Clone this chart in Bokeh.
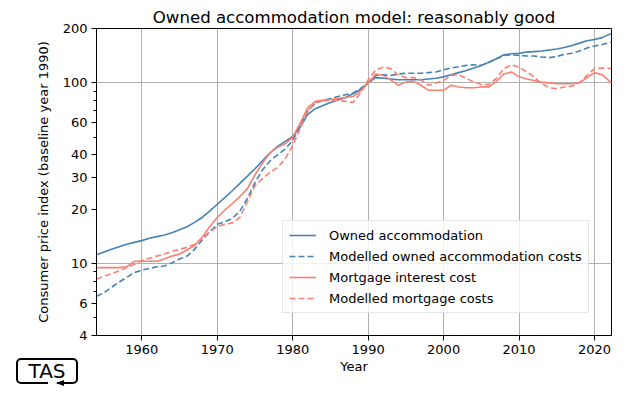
from bokeh.plotting import figure
from bokeh.layouts import column
from bokeh.models import (Range1d, FixedTicker, PrintfTickFormatter, Legend,
                          LegendItem, ColumnDataSource, Div)
from bokeh.embed import file_html
from bokeh.resources import INLINE

years = list(range(1954, 2022)) + [2022.25]

owned_accommodation = [
    11.2, 11.6, 12.0, 12.4, 12.8, 13.1, 13.4, 13.8, 14.1, 14.4,
    14.8, 15.4, 16.0, 16.9, 18.0, 19.5, 21.3, 23.2, 25.3, 27.8,
    30.5, 33.5, 37.0, 41.0, 44.5, 47.5, 50.5, 57.0, 67.0, 72.0,
    75.0, 78.0, 80.5, 83.0, 87.0, 92.0, 100.0, 107.0, 106.0, 105.0,
    104.0, 104.0, 104.0, 104.0, 105.0, 106.0, 108.0, 111.0, 114.0, 117.0,
    121.0, 125.0, 130.0, 136.0, 143.0, 145.0, 146.0, 148.0, 149.0, 150.0,
    152.0, 154.0, 157.0, 161.0, 166.0, 171.0, 174.0, 178.0, 188.0]

modelled_owned = [
    6.6, 6.9, 7.4, 7.9, 8.4, 8.9, 9.2, 9.4, 9.6, 9.7,
    10.1, 10.6, 11.0, 12.0, 13.5, 15.0, 16.5, 17.0, 17.8, 19.5,
    23.0, 28.0, 33.0, 37.0, 40.0, 43.0, 48.0, 58.0, 70.0, 77.0,
    80.0, 82.0, 84.0, 86.0, 88.0, 93.0, 100.0, 110.0, 111.0, 110.0,
    112.0, 113.0, 113.0, 113.0, 114.0, 115.0, 118.0, 121.0, 123.0, 125.0,
    126.0, 125.0, 130.0, 136.0, 142.0, 143.0, 142.0, 141.0, 141.0, 139.0,
    138.0, 140.0, 144.0, 146.0, 150.0, 156.0, 160.0, 163.0, 168.0]

mortgage_interest = [
    9.5, 9.5, 9.5, 9.5, 9.6, 10.3, 10.3, 10.3, 10.3, 10.6,
    11.0, 11.3, 11.9, 12.6, 14.0, 16.0, 18.0, 19.8, 21.5, 23.5,
    26.0, 31.0, 36.0, 41.0, 44.0, 46.0, 50.0, 60.0, 73.0, 79.0,
    80.0, 81.0, 82.0, 83.0, 84.0, 90.0, 100.0, 112.0, 110.0, 104.0,
    97.0, 101.0, 102.0, 97.0, 91.0, 91.0, 91.0, 97.0, 95.0, 94.0,
    94.0, 95.0, 95.0, 102.0, 112.0, 115.0, 108.0, 105.0, 103.0, 101.0,
    100.0, 99.0, 99.0, 99.0, 100.0, 107.0, 114.0, 111.0, 100.0]

modelled_mortgage = [
    8.2, 8.5, 8.8, 9.1, 9.5, 9.9, 10.4, 10.7, 11.0, 11.3,
    11.7, 12.0, 12.3, 12.8, 13.8, 15.0, 16.0, 16.5, 16.8, 18.0,
    22.0, 27.0, 29.5, 32.0, 34.0, 38.0, 45.0, 56.0, 70.0, 78.0,
    80.0, 80.0, 80.0, 79.0, 78.0, 88.0, 104.0, 118.0, 122.0, 120.0,
    110.0, 107.0, 107.0, 104.0, 97.0, 100.0, 103.0, 110.0, 111.0, 106.0,
    101.0, 98.0, 98.0, 106.0, 120.0, 126.0, 122.0, 115.0, 108.0, 99.0,
    94.0, 93.0, 95.0, 96.0, 100.0, 110.0, 120.0, 121.0, 120.0]

x_ticks = [1960, 1970, 1980, 1990, 2000, 2010, 2020]
y_ticks = [4, 6, 10, 20, 30, 40, 60, 100, 200]
y_minor = [5, 7, 8, 9, 50, 70, 80, 90]
y_grid = [10, 100]

BLUE = "#4682b4"
RED = "#fa8072"
FONT = "DejaVu Sans"

src = ColumnDataSource(dict(year=years, oa=owned_accommodation, mo=modelled_owned,
                            mi=mortgage_interest, mm=modelled_mortgage))

p = figure(width=624, height=380, output_backend="svg", toolbar_location=None,
           x_range=Range1d(1954, 2022.25), y_range=Range1d(4, 200), y_axis_type="log",
           min_border_left=96, min_border_right=13, min_border_top=28, min_border_bottom=45,
           title="Owned accommodation model: reasonably good")

p.title.text_font = FONT
p.title.text_font_size = "16.6px"
p.title.text_font_style = "normal"
p.title.align = "center"
p.title.text_color = "black"
p.title.standoff = 3

p.outline_line_color = "black"
p.outline_line_alpha = 1
p.outline_line_width = 1
p.background_fill_color = "white"
p.border_fill_color = "white"

p.xaxis.ticker = FixedTicker(ticks=x_ticks)
p.yaxis.ticker = FixedTicker(ticks=y_ticks, minor_ticks=y_minor)
p.yaxis.formatter = PrintfTickFormatter(format="%d")
p.xgrid.ticker = FixedTicker(ticks=x_ticks)
p.ygrid.ticker = FixedTicker(ticks=y_grid)
for g in (p.xgrid, p.ygrid):
    g.grid_line_color = "#b0b0b0"
    g.grid_line_width = 1

for ax in (p.xaxis, p.yaxis):
    ax.axis_line_color = "black"
    ax.major_tick_line_color = "black"
    ax.minor_tick_line_color = "black"
    ax.major_tick_out = 5
    ax.major_tick_in = 0
    ax.minor_tick_out = 3
    ax.minor_tick_in = 0
    ax.major_label_text_font = FONT
    ax.major_label_text_font_size = "13px"
    ax.major_label_text_color = "black"
    ax.major_label_standoff = 4
    ax.axis_label_text_font = FONT
    ax.axis_label_text_font_size = "13px"
    ax.axis_label_text_font_style = "normal"
    ax.axis_label_text_color = "black"

p.xaxis.axis_label = "Year"
p.yaxis.axis_label = "Consumer price index (baseline year 1990)"
p.xaxis.axis_label_standoff = 2
p.yaxis.axis_label_standoff = 9

DASH = "6 3"
r1 = p.line("year", "oa", source=src, line_color=BLUE, line_width=1.6)
r2 = p.line("year", "mo", source=src, line_color=BLUE, line_width=1.6, line_dash=DASH)
r3 = p.line("year", "mi", source=src, line_color=RED, line_width=1.6)
r4 = p.line("year", "mm", source=src, line_color=RED, line_width=1.6, line_dash=DASH)

legend = Legend(items=[
    LegendItem(label="Owned accommodation", renderers=[r1]),
    LegendItem(label="Modelled owned accommodation costs", renderers=[r2]),
    LegendItem(label="Mortgage interest cost", renderers=[r3]),
    LegendItem(label="Modelled mortgage costs", renderers=[r4]),
], location=(186, 22))
legend.margin = 0
legend.padding = 6
legend.spacing = 5
legend.glyph_width = 27
legend.glyph_height = 16
legend.label_height = 16
legend.label_standoff = 13
legend.label_text_font = FONT
legend.label_text_font_size = "13px"
legend.label_text_color = "black"
legend.border_line_color = "#cccccc"
legend.border_line_width = 1
legend.background_fill_color = "white"
legend.background_fill_alpha = 0.8
p.add_layout(legend, "center")

# "TAS" logo drawn as HTML, overlapping the bottom-left corner of the figure
logo_html = (
    '<div style="position:relative;width:0;height:0;">'
    '<div style="position:absolute;left:16px;top:-34px;width:62px;height:26px;'
    'box-sizing:border-box;border:2px solid black;border-radius:5px;background:white;'
    "font-family:'DejaVu Sans';font-size:20px;line-height:22px;text-align:center;"
    'color:black;">TAS</div>'
    '<div style="position:absolute;left:48px;top:-11px;width:9px;height:4px;'
    'background:white;"></div>'
    '<div style="position:absolute;left:56px;top:-12.5px;width:0;height:0;'
    'border-top:3.5px solid transparent;border-bottom:3.5px solid transparent;'
    'border-right:8px solid black;"></div>'
    '</div>'
)
logo = Div(text=logo_html, width=624, height=1, margin=0)

layout = column(p, logo, spacing=0)

open("out.html", "w").write(file_html(layout, INLINE))
